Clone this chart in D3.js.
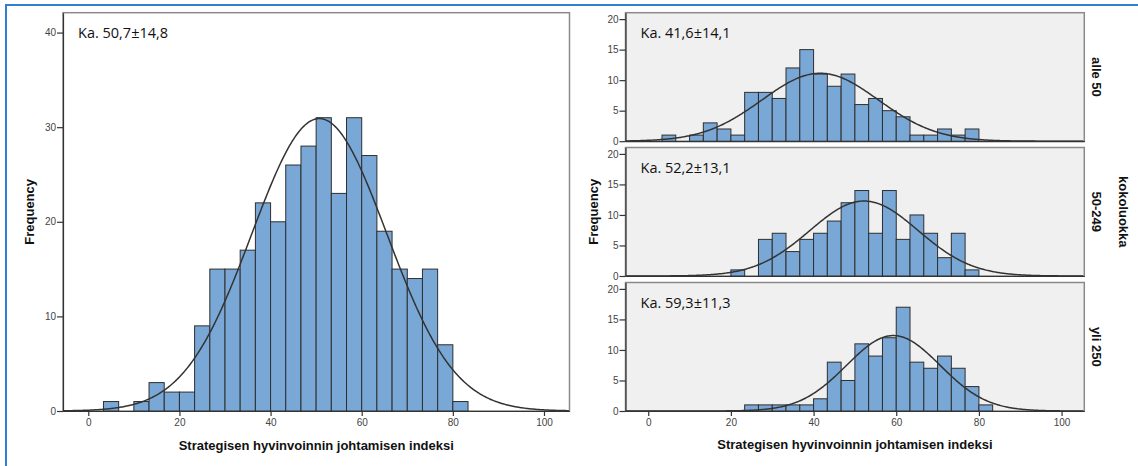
<!DOCTYPE html>
<html>
<head>
<meta charset="utf-8">
<script src="https://cdn.jsdelivr.net/npm/d3@7"></script>
<style>
	body { margin: 0; background: #fff; }
	svg { display: block; }
</style>
</head>
<body>
<div id="chart"></div>
<script>
const w = 1138;
const h = 466;

// lower edges of the histogram bins (bin width 3,33)
const binStarts = [3.33, 6.67, 10, 13.33, 16.67, 20, 23.33, 26.67, 30, 33.33, 36.67, 40,
	43.33, 46.67, 50, 53.33, 56.67, 60, 63.33, 66.67, 70, 73.33, 76.67, 80];
const binWidth = 10 / 3;

const countsAll = [1, 0, 1, 3, 2, 2, 9, 15, 15, 17, 22, 20, 26, 28, 31, 23, 31, 27, 19, 15, 14, 15, 7, 1];
const countsSmall = [1, 0, 1, 3, 2, 1, 8, 8, 7, 12, 15, 11, 9, 11, 6, 7, 5, 4, 1, 1, 2, 1, 2, 0];
const countsMedium = [0, 0, 0, 0, 0, 1, 0, 6, 7, 4, 6, 7, 9, 12, 14, 7, 14, 6, 10, 7, 3, 7, 1, 0];
const countsLarge = [0, 0, 0, 0, 0, 0, 1, 1, 1, 1, 1, 2, 8, 5, 11, 9, 12, 17, 8, 7, 9, 7, 4, 1];

const groupNames = ['alle 50', '50-249', 'yli 250'];
const groupCounts = [countsSmall, countsMedium, countsLarge];
const groupMeans = [41.6, 52.2, 59.3];
const groupSds = [14.1, 13.1, 11.3];

const meanAll = 50.7;
const sdAll = 14.8;

const xTicks = [0, 20, 40, 60, 80, 100];
const yTicksAll = [0, 10, 20, 30, 40];
const yTicksGroup = [0, 5, 10, 15, 20];

const xTitle = 'Strategisen hyvinvoinnin johtamisen indeksi';
const yTitle = 'Frequency';
const facetTitle = 'kokoluokka';

const fmt = v => v.toFixed(1).replace('.', ',');

const svg = d3
	.select('#chart')
	.append('svg')
	.attr('width', w)
	.attr('height', h)
	.style('font-family', '"Liberation Sans", Arial, sans-serif');

// blue outline round the picture
svg
	.append('rect')
	.attr('x', 6)
	.attr('y', 5)
	.attr('width', w + 20)
	.attr('height', h + 20)
	.attr('fill', 'none')
	.attr('stroke', '#2f7fd3')
	.attr('stroke-width', 2);

function drawHist(g, x, y, counts, mean, sd, bg, label) {
	const [x0, x1] = x.range();
	const [y0, y1] = y.range();

	g.append('rect')
		.attr('x', x0)
		.attr('y', y1)
		.attr('width', x1 - x0)
		.attr('height', y0 - y1)
		.attr('fill', bg)
		.attr('stroke', '#8a8a8a')
		.attr('stroke-width', 1.5);

	g.selectAll('rect.bar')
		.data(binStarts.map((b, i) => ({b, n: counts[i]})).filter(d => d.n > 0))
		.enter()
		.append('rect')
		.attr('class', 'bar')
		.attr('x', d => x(d.b))
		.attr('y', d => y(d.n))
		.attr('width', d => x(d.b + binWidth) - x(d.b))
		.attr('height', d => y(0) - y(d.n))
		.attr('fill', '#7aa8d6')
		.attr('stroke', '#2e2e2e')
		.attr('stroke-width', 1);

	// fitted normal curve, scaled to counts per bin
	const n = d3.sum(counts);
	const pdf = v => (n * binWidth) / (sd * Math.sqrt(2 * Math.PI)) * Math.exp(-0.5 * ((v - mean) / sd) ** 2);
	const xs = d3.range(x.domain()[0], x.domain()[1], 0.25);

	g.append('path')
		.datum(xs)
		.attr('fill', 'none')
		.attr('stroke', '#333')
		.attr('stroke-width', 1.5)
		.attr('d', d3.line().x(v => x(v)).y(v => y(pdf(v))));

	g.append('text')
		.attr('x', x0 + 15)
		.attr('y', y1 + 25)
		.style('font-size', '14.5px')
		.style('font-family', '"Open Sans", sans-serif')
		.attr('fill', '#111')
		.text(label);
}

function styleAxis(sel) {
	sel.select('.domain').attr('stroke', '#333').attr('stroke-width', 1.2);
	sel.selectAll('.tick line').attr('stroke', '#333').attr('stroke-width', 1.2);
	sel.selectAll('.tick text').attr('fill', '#444').style('font-size', '10px');
}

// left: all respondents
const xLeft = d3.scaleLinear().domain([-5.55, 105.6]).range([63, 569.5]);
const yLeft = d3.scaleLinear().domain([0, 42.1]).range([411, 12.7]);
const gLeft = svg.append('g');
drawHist(gLeft, xLeft, yLeft, countsAll, meanAll, sdAll, '#fff', `Ka. ${fmt(meanAll)}±${fmt(sdAll)}`);

svg.append('g')
	.attr('transform', `translate(0, ${yLeft(0)})`)
	.call(d3.axisBottom(xLeft).tickValues(xTicks).tickSize(5).tickPadding(3).tickSizeOuter(0))
	.call(styleAxis);
svg.append('g')
	.attr('transform', `translate(${xLeft.range()[0]}, 0)`)
	.call(d3.axisLeft(yLeft).tickValues(yTicksAll).tickSize(6).tickPadding(1).tickSizeOuter(0))
	.call(styleAxis);

svg.append('text')
	.attr('x', d3.mean(xLeft.range()))
	.attr('y', 450)
	.attr('text-anchor', 'middle')
	.style('font-size', '13px')
	.style('font-weight', 'bold')
	.attr('fill', '#111')
	.text(xTitle);
svg.append('text')
	.attr('transform', `translate(34, ${d3.mean(yLeft.range())}) rotate(-90)`)
	.attr('text-anchor', 'middle')
	.style('font-size', '13px')
	.style('font-weight', 'bold')
	.attr('fill', '#111')
	.text(yTitle);

// right: by company size
const panelTops = [12.7, 147.5, 282.5];
const panelH = 128.5;
const xRight = d3.scaleLinear().domain([-5.5, 105.5]).range([625.5, 1084.3]);

groupNames.forEach((name, i) => {
	const top = panelTops[i];
	const y = d3.scaleLinear().domain([0, 21.05]).range([top + panelH, top]);
	const g = svg.append('g');
	drawHist(g, xRight, y, groupCounts[i], groupMeans[i], groupSds[i], '#f0f0f0',
		`Ka. ${fmt(groupMeans[i])}±${fmt(groupSds[i])}`);

	svg.append('g')
		.attr('transform', `translate(${xRight.range()[0]}, 0)`)
		.call(d3.axisLeft(y).tickValues(yTicksGroup).tickSize(6).tickPadding(1).tickSizeOuter(0))
		.call(styleAxis);
	svg.append('g')
		.attr('transform', `translate(0, ${y(0)})`)
		.call(d3.axisBottom(xRight).tickValues(i === 2 ? xTicks : []).tickSize(5).tickPadding(3).tickSizeOuter(0))
		.call(styleAxis);

	svg.append('text')
		.attr('transform', `translate(1092, ${top + panelH / 2}) rotate(90)`)
		.attr('text-anchor', 'middle')
		.style('font-size', '13px')
		.style('font-weight', 'bold')
		.attr('fill', '#111')
		.text(name);
});

svg.append('text')
	.attr('transform', `translate(1119, ${panelTops[1] + panelH / 2}) rotate(90)`)
	.attr('text-anchor', 'middle')
	.style('font-size', '13px')
	.style('font-weight', 'bold')
	.attr('fill', '#111')
	.text(facetTitle);

svg.append('text')
	.attr('x', d3.mean(xRight.range()))
	.attr('y', 449)
	.attr('text-anchor', 'middle')
	.style('font-size', '13px')
	.style('font-weight', 'bold')
	.attr('fill', '#111')
	.text(xTitle);
svg.append('text')
	.attr('transform', `translate(598, ${panelTops[1] + panelH / 2}) rotate(-90)`)
	.attr('text-anchor', 'middle')
	.style('font-size', '13px')
	.style('font-weight', 'bold')
	.attr('fill', '#111')
	.text(yTitle);
</script>
</body>
</html>
